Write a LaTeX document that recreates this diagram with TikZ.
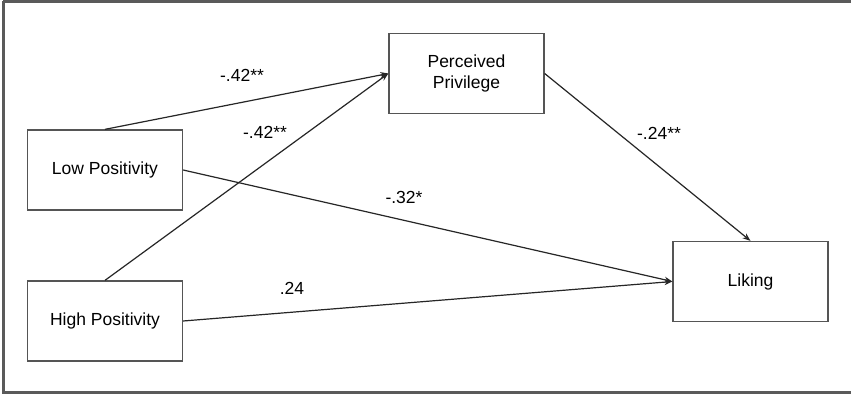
\documentclass[tikz,border=0pt]{standalone}
\usepackage{fontspec}
\setmainfont{Liberation Sans}
\usetikzlibrary{arrows.meta}
\definecolor{frame}{HTML}{5A5A5A}
\definecolor{boxline}{HTML}{555555}
\begin{document}
\begin{tikzpicture}[x=1pt,y=-1pt,
  varbox/.style={draw=boxline,line width=1.3pt,minimum width=155pt,minimum height=80pt,inner sep=0pt,align=center,font=\fontsize{17.5}{21}\selectfont},
  coef/.style={font=\fontsize{17.5}{21}\selectfont,inner sep=0pt},
  path/.style={draw=black!85,line width=1.2pt,-{Stealth[length=8pt,width=6pt]}}]
\useasboundingbox (0,0) rectangle (851,395);
\fill[white] (0,0) rectangle (851,395);
\draw[frame,line width=3pt] (3,1.5) -- (3,392.5) -- (870,392.5);
\draw[frame,line width=3pt] (3,1.5) -- (870,1.5);
\node[varbox] (pp) at (466.5,73.5) {Perceived\\Privilege};
\node[varbox] (low) at (105,170) {Low Positivity};
\node[varbox] (high) at (105,321) {High Positivity};
\node[varbox] (lik) at (750.5,281.5) {Liking};
\draw[path] (low.north) -- (pp.west);
\draw[path] (high.north) -- (pp.west);
\draw[path] (low.east) -- (lik.west);
\draw[path] (high.east) -- (lik.west);
\draw[path] (pp.east) -- (lik.north);
\node[coef] (c1) at (242,75) {-.42**};
\node[coef] (c2) at (265,132) {-.42**};
\node[coef] (c3) at (404,197) {-.32*};
\node[coef] (c4) at (292,288) {.24};
\node[coef] (c5) at (659,133) {-.24**};
\end{tikzpicture}
\end{document}
